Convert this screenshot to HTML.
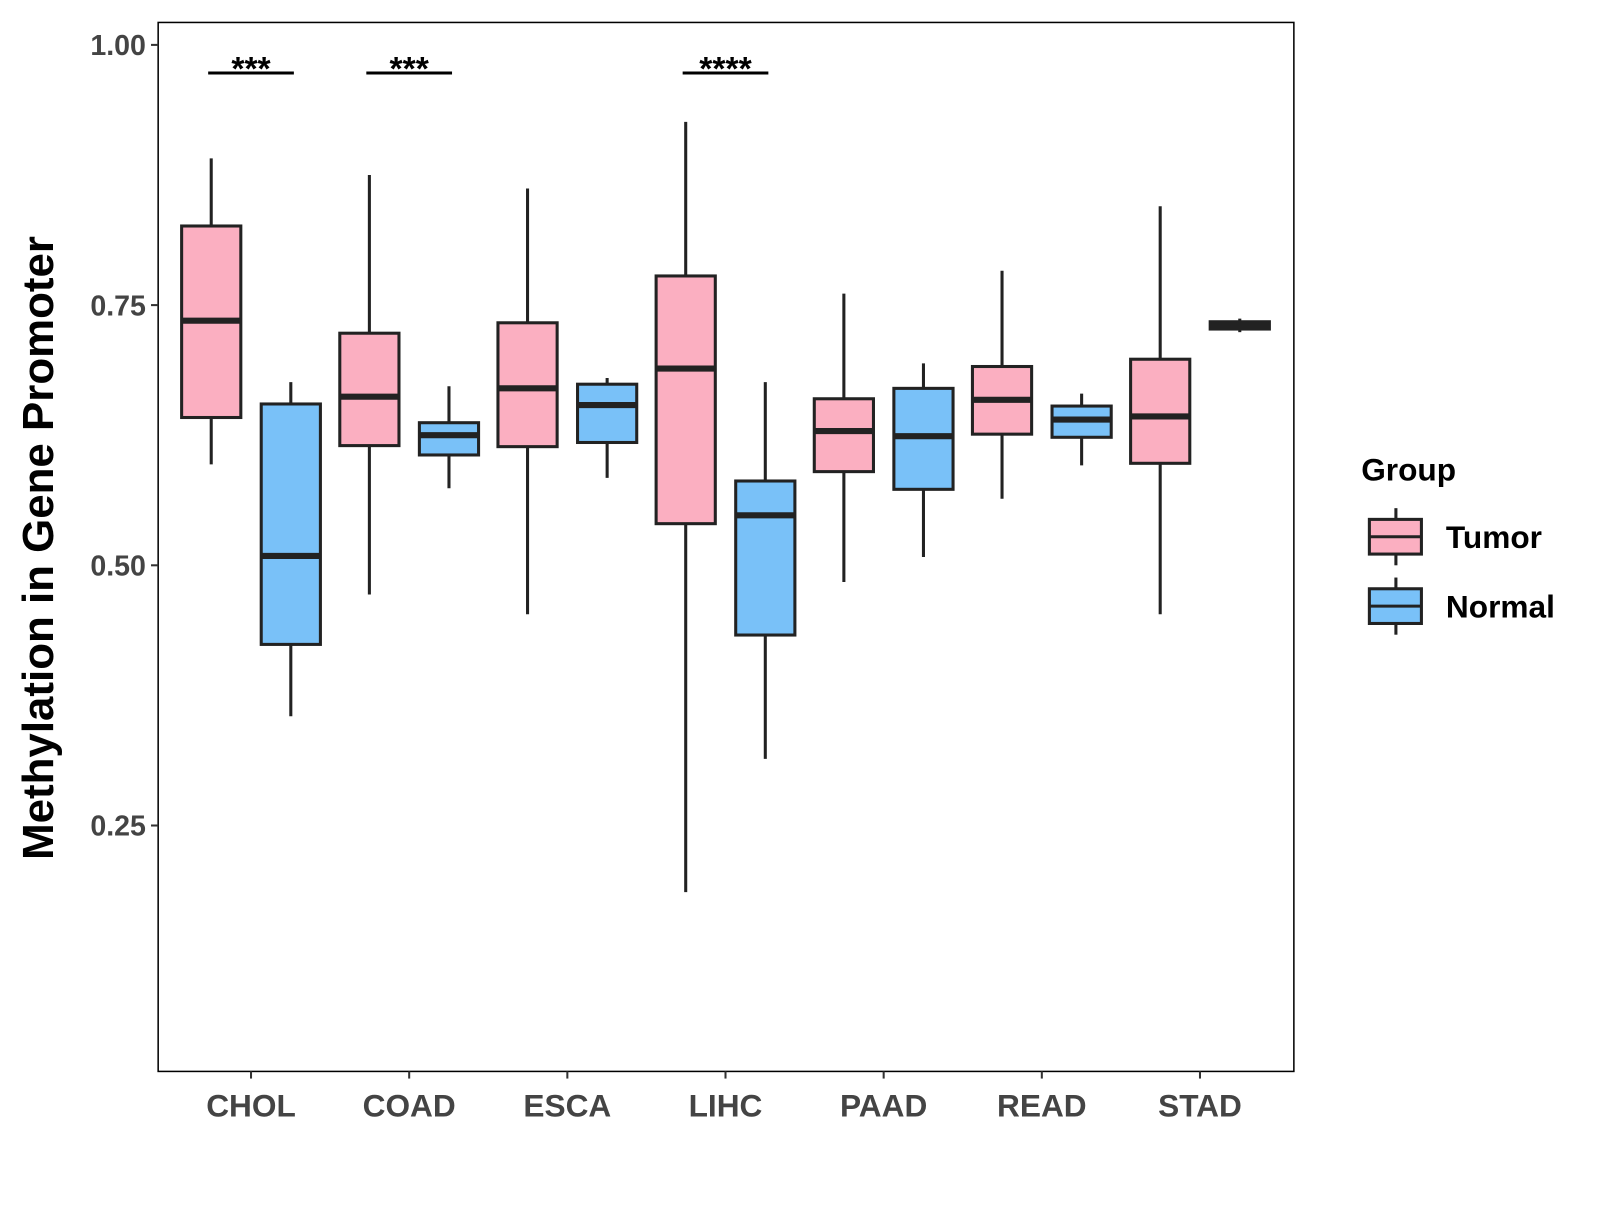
<!DOCTYPE html>
<html><head><meta charset="utf-8"><style>
body{margin:0;background:#fff;}
svg text{font-family:"Liberation Sans",Arial,sans-serif;font-weight:bold;}
</style></head><body>
<svg id="chart" width="1600" height="1200" viewBox="0 0 1600 1200">
<rect x="0" y="0" width="1600" height="1200" fill="#fff"/>
<g transform="scale(1.0204)">
<g id="plot"></g>
<text x="52" y="537" font-size="43" fill="#000" text-anchor="middle" transform="rotate(-90 52 537)">Methylation in Gene Promoter</text>
<g>
<text x="1334" y="471" font-size="31" fill="#000">Group</text>
</g>
</g>
</svg>
<script>
const categories=["CHOL","COAD","ESCA","LIHC","PAAD","READ","STAD"];
const tumorStats=[[0.597,0.642,0.735,0.826,0.891],[0.472,0.615,0.662,0.723,0.875],[0.453,0.614,0.670,0.733,0.862],[0.186,0.540,0.689,0.778,0.926],[0.484,0.590,0.629,0.660,0.761],[0.564,0.626,0.659,0.691,0.783],[0.453,0.598,0.643,0.698,0.845]];
const normalStats=[[0.355,0.424,0.509,0.655,0.676],[0.574,0.606,0.625,0.637,0.672],[0.584,0.618,0.654,0.674,0.680],[0.314,0.433,0.548,0.581,0.676],[0.508,0.573,0.624,0.670,0.694],[0.596,0.623,0.640,0.653,0.665],[0.724,0.727,0.731,0.734,0.737]];
const yTicks=[0.25,0.50,0.75,1.00];
const yTickLabels=["0.25","0.50","0.75","1.00"];
const sigCategories=["CHOL","COAD","LIHC"];
const sigLabels=["***","***","****"];
const sigLevel=[0.973,0.973,0.973];

const NS="http://www.w3.org/2000/svg";
const L=155,R=1268,T=22,B=1050;
function y(v){return 44+(1-v)*1020;}
function x(i){return 246+i*155;}
const g=document.getElementById('plot');
function mk(t,a){const e=document.createElementNS(NS,t);for(const k in a)e.setAttribute(k,a[k]);g.appendChild(e);return e;}
const frame=mk('rect',{x:L,y:T,width:R-L,height:B-T,fill:'none',stroke:'#000','stroke-width':1.5});


yTicks.forEach((v,i)=>{
  const t=mk('line',{x1:L-7,x2:L,y1:y(v),y2:y(v),stroke:'#333','stroke-width':2});
  
  
  const lb=mk('text',{x:L-12,y:y(v)+10,'font-size':28,fill:'#444','text-anchor':'end'});
  lb.textContent=yTickLabels[i];
  
  
});
categories.forEach((c,i)=>{
  const t=mk('line',{x1:x(i),x2:x(i),y1:B,y2:B+7,stroke:'#333','stroke-width':2});
  
  
  const lb=mk('text',{x:x(i),y:B+44,'font-size':31,fill:'#444','text-anchor':'middle'});
  lb.textContent=c;
  
  
});
function box(cx,s,fill,name){
  const w=58;
  const wl=mk('line',{x1:cx,x2:cx,y1:y(s[4]),y2:y(s[0]),stroke:'#222','stroke-width':3});
  
  
  const r=mk('rect',{x:cx-w/2,y:y(s[3]),width:w,height:Math.max(1,y(s[1])-y(s[3])),fill:fill,stroke:'#222','stroke-width':3});
  
  
  const m=mk('line',{x1:cx-w/2,x2:cx+w/2,y1:y(s[2]),y2:y(s[2]),stroke:'#222','stroke-width':6});
  
  
}
categories.forEach((c,i)=>{
  box(x(i)-39,tumorStats[i],'#fbafc1','tumor-'+c.toLowerCase());
  box(x(i)+39,normalStats[i],'#79c1f8','normal-'+c.toLowerCase());
});
sigCategories.forEach((c,k)=>{
  const i=categories.indexOf(c);
  const ln=mk('line',{x1:x(i)-42,x2:x(i)+42,y1:y(sigLevel[k]),y2:y(sigLevel[k]),stroke:'#000','stroke-width':3});
  
  
  const t=mk('text',{x:x(i),y:y(sigLevel[k])+7,'font-size':33,fill:'#000','text-anchor':'middle'});
  t.textContent=sigLabels[k];
  
  
});
[["Tumor","#fbafc1",526],["Normal","#79c1f8",594]].forEach(([n,f,cy])=>{
  const v=mk('line',{x1:1368,x2:1368,y1:cy-28,y2:cy+28,stroke:'#222','stroke-width':3});
  
  
  const r=mk('rect',{x:1342,y:cy-17,width:51,height:34,fill:f,stroke:'#222','stroke-width':3});
  
  
  const m=mk('line',{x1:1342,x2:1393,y1:cy,y2:cy,stroke:'#222','stroke-width':3});
  
  
  const t=mk('text',{x:1417,y:cy+11,'font-size':31,fill:'#000'});
  t.textContent=n;
  
  
});
</script>
</body></html>
